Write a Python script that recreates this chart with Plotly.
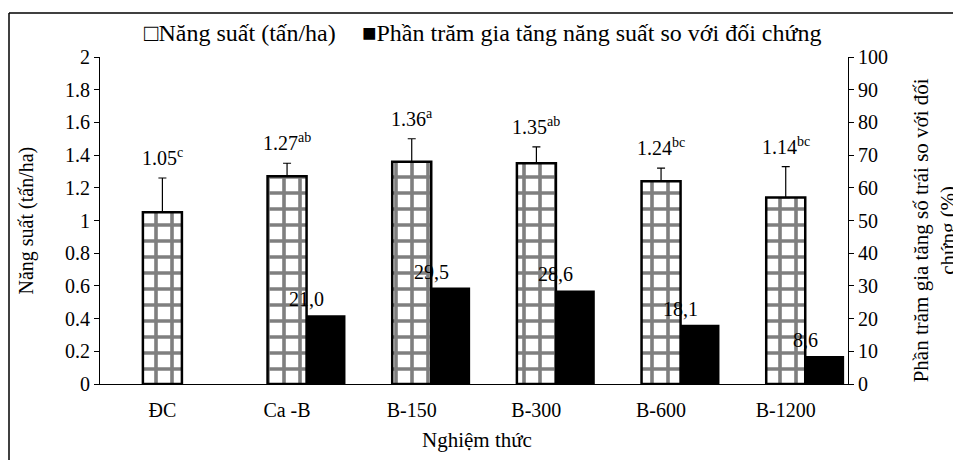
import plotly.graph_objects as go

categories = ["ĐC", "Ca -B", "B-150", "B-300", "B-600", "B-1200"]
yield_values = [1.05, 1.27, 1.36, 1.35, 1.24, 1.14]
yield_errors = [0.21, 0.08, 0.14, 0.10, 0.08, 0.19]
yield_letters = ["c", "ab", "a", "ab", "bc", "bc"]
increase_pct = [None, 21.0, 29.5, 28.6, 18.1, 8.6]
increase_labels = ["", "21,0", "29,5", "28,6", "18,1", "8,6"]

FONT = "Liberation Serif, Tinos, Times New Roman, DejaVu Serif, serif"
FS = 20
BW = 0.313
OFF = 0.156

fig = go.Figure()
fig.add_trace(go.Bar(
    x=categories, y=yield_values, width=BW, offset=-OFF,
    name="Năng suất (tấn/ha)",
    marker=dict(color="white", line=dict(color="black", width=2.5),
                pattern=dict(shape="+", fgcolor="black", bgcolor="white",
                             size=16, solidity=0.4)),
    error_y=dict(type="data", array=yield_errors, symmetric=False,
                 arrayminus=[0] * len(yield_errors),
                 color="black", thickness=1.2, width=4),
    showlegend=False,
))
fig.add_trace(go.Bar(
    x=categories, y=increase_pct, width=BW, offset=OFF, yaxis="y2",
    name="Phần trăm gia tăng năng suất so với đối chứng",
    marker=dict(color="black", line=dict(width=0)),
    showlegend=False,
))

ann = []
for i, (v, e, l) in enumerate(zip(yield_values, yield_errors, yield_letters)):
    ann.append(dict(x=i, y=v + e, xref="x", yref="y",
                    text=f"{v:.2f}<sup>{l}</sup>", showarrow=False,
                    yanchor="bottom", yshift=7,
                    font=dict(family=FONT, size=FS, color="black")))
for i, (p, t) in enumerate(zip(increase_pct, increase_labels)):
    if p is None:
        continue
    ann.append(dict(x=i + OFF, y=p, xref="x", yref="y2", text=t,
                    showarrow=False, yanchor="bottom", yshift=3,
                    font=dict(family=FONT, size=FS, color="black")))

# axis titles
ann.append(dict(x=(26 - 100) / 748, y=0.5, xref="paper", yref="paper",
                xanchor="center", yanchor="middle",
                text="Năng suất (tấn/ha)", textangle=-90, showarrow=False,
                font=dict(family=FONT, size=FS, color="black")))
ann.append(dict(x=(934 - 100) / 748, y=0.47, xref="paper", yref="paper",
                xanchor="center", yanchor="middle",
                text="Phần trăm gia tăng số trái so với đối<br>chứng (%)",
                textangle=-90, showarrow=False,
                font=dict(family=FONT, size=21, color="black")))
ann.append(dict(x=(477 - 100) / 748, y=(384 - 440) / 327, xref="paper",
                yref="paper", xanchor="center", yanchor="middle",
                text="Nghiệm thức", showarrow=False,
                font=dict(family=FONT, size=21, color="black")))
# legend
ann.append(dict(x=(142 - 100) / 748, y=(384 - 33) / 327, xref="paper",
                yref="paper", xanchor="left", yanchor="middle",
                text="□Năng suất (tấn/ha)", showarrow=False,
                font=dict(family=FONT, size=24, color="black")))
ann.append(dict(x=(360 - 100) / 748, y=(384 - 33) / 327, xref="paper",
                yref="paper", xanchor="left", yanchor="middle",
                text="■Phần trăm gia tăng năng suất so với đối chứng",
                showarrow=False,
                font=dict(family=FONT, size=24, color="black")))

bx = (9 - 100) / 748
by = (384 - 13) / 327
shapes = [
    dict(type="line", xref="paper", yref="paper", x0=bx, x1=bx,
         y0=by, y1=-0.3, line=dict(color="black", width=1.5)),
    dict(type="line", xref="paper", yref="paper", x0=bx, x1=1.2,
         y0=by, y1=by, line=dict(color="black", width=1.5)),
]

# page has an 8px body margin: figure coords = page coords - 8
fig.update_layout(
    width=953, height=452,
    margin=dict(l=92, r=113, t=49, b=76),
    paper_bgcolor="white", plot_bgcolor="white",
    font=dict(family=FONT, size=FS, color="black"),
    barmode="overlay",
    annotations=ann, shapes=shapes,
    xaxis=dict(type="category", range=[-0.5, 5.5], showline=True,
               linecolor="black", linewidth=1, ticks="", showgrid=False,
               ticklabelstandoff=8,
               tickfont=dict(family=FONT, size=FS)),
    yaxis=dict(range=[0, 2], dtick=0.2, tick0=0, showline=True,
               linecolor="black", linewidth=1, ticks="outside", ticklen=5,
               tickcolor="black", showgrid=False, zeroline=False,
               tickfont=dict(family=FONT, size=FS)),
    yaxis2=dict(range=[0, 100], dtick=10, tick0=0, overlaying="y",
                side="right", showline=True, linecolor="black", linewidth=1,
                ticks="outside", ticklen=5, tickcolor="black",
                showgrid=False, zeroline=False,
                tickfont=dict(family=FONT, size=FS)),
)

fig.write_html("out.html")
